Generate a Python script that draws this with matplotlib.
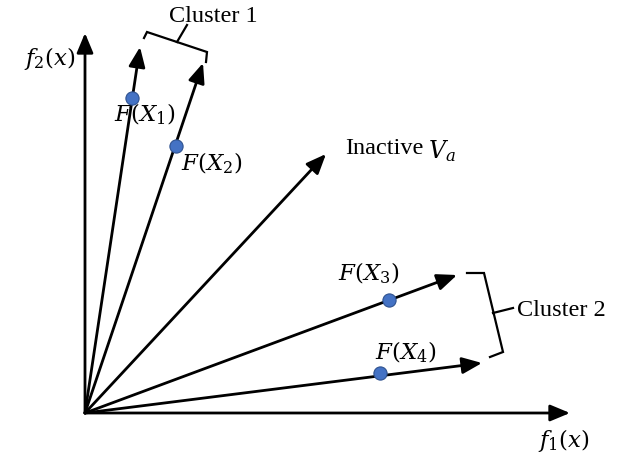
import matplotlib
matplotlib.use("Agg")
import matplotlib.pyplot as plt

plt.rcParams['font.family'] = ['Liberation Serif', 'DejaVu Serif']
plt.rcParams['mathtext.fontset'] = 'dejavuserif'

# objective-space vectors from the origin (f1, f2)
vec_tips_x = [55, 118, 241, 372, 397]
vec_tips_y = [366, 350, 259, 138, 50]

# solutions lying on the reference vectors
pt_names = [r'$F(X_1)$', r'$F(X_2)$', r'$F(X_3)$', r'$F(X_4)$']
pt_x = [47, 91, 304, 295]
pt_y = [315, 267, 113, 40]
lbl_x = [60, 127, 284, 321]
lbl_y = [299, 250, 140, 61]

# cluster brackets
br1_x = [59, 62, 122, 121]
br1_y = [375, 381, 361, 351]
br2_x = [382, 399, 418, 405]
br2_y = [140, 140, 61, 56]

fig = plt.figure(figsize=(6.21, 4.53), dpi=100)
ax = fig.add_axes([0, 0, 1, 1])
ax.set_xlim(-85, 536)
ax.set_ylim(-40, 413)
ax.axis('off')

arrow = dict(arrowstyle='-|>,head_length=0.6,head_width=0.25', lw=2.0,
             color='black', mutation_scale=20, shrinkA=0, shrinkB=0)

# axes
ax.annotate('', xy=(485, 0), xytext=(0, 0), arrowprops=arrow)
ax.annotate('', xy=(0, 380), xytext=(0, 0), arrowprops=arrow)

for tx, ty in zip(vec_tips_x, vec_tips_y):
    ax.annotate('', xy=(tx, ty), xytext=(0, 0), arrowprops=arrow)

ax.plot(pt_x, pt_y, 'o', ms=9.5, color='#4472C4', mec='#2F528F', mew=0.8, zorder=5)
for name, x, y in zip(pt_names, lbl_x, lbl_y):
    ax.text(x, y, name, fontsize=16.5, ha='center', va='center')

ax.plot(br1_x, br1_y, color='black', lw=1.6, solid_joinstyle='miter')
ax.plot([92, 102], [371, 388], color='black', lw=1.6)
ax.plot(br2_x, br2_y, color='black', lw=1.6, solid_joinstyle='miter')
ax.plot([408, 428], [100, 105], color='black', lw=1.6)

ax.text(128, 396, 'Cluster 1', fontsize=17.5, ha='center', va='center')
ax.text(432, 103, 'Cluster 2', fontsize=17.5, ha='left', va='center')
ax.text(260, 265, 'Inactive', fontsize=17.5, ha='left', va='center')
ax.text(343, 262, r'$V_a$', fontsize=17, ha='left', va='center')
ax.text(-35, 355, r'$f_2(x)$', fontsize=16.5, ha='center', va='center')
ax.text(479, -27, r'$f_1(x)$', fontsize=16.5, ha='center', va='center')

fig.savefig('out.png', dpi=100)
